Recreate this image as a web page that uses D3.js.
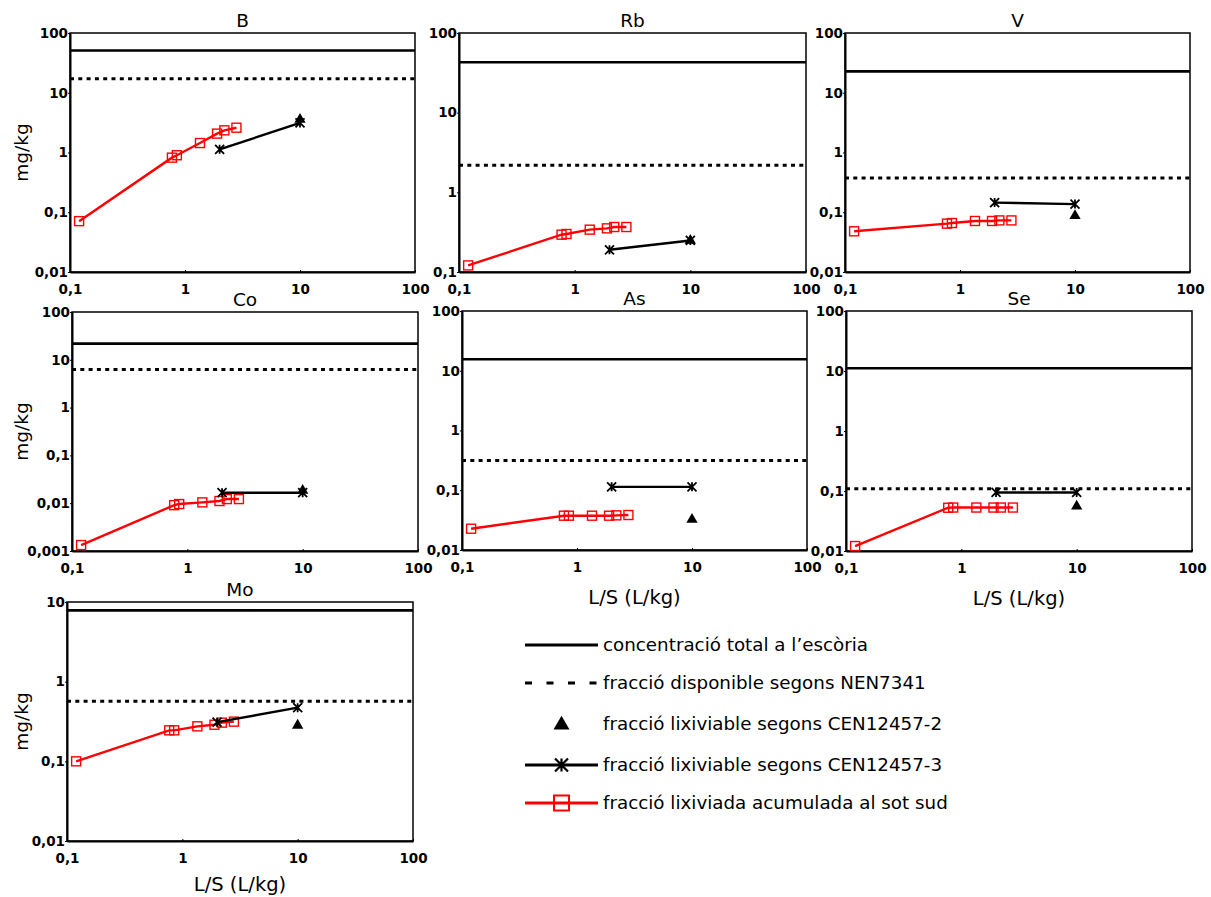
<!DOCTYPE html>
<html lang="ca">
<head>
<meta charset="utf-8">
<title>Lixiviació</title>
<script src="https://d3js.org/d3.v7.min.js"></script>
<style>
  body { margin: 0; background: #fff; }
  svg { font-family: "DejaVu Sans", Verdana, sans-serif; }
  .axis path, .axis line { stroke: #000; }
  .title { font-size: 18.5px; text-anchor: middle; }
  .ylab { font-size: 18.5px; text-anchor: middle; }
  .xlab { font-size: 19.5px; text-anchor: middle; }
  .leg { font-size: 18.3px; }
</style>
</head>
<body>
<div id="chart"></div>
<script>
// ---- data ----
var elements = ["B", "Rb", "V", "Co", "As", "Se", "Mo"];
var lsAccum = [0.12, 0.77, 0.85, 1.35, 1.9, 2.2, 2.8];   // L/S of the accumulated field leachate
var lsBatch = [2, 10];                                   // CEN12457-3
var lsSingle = 10;                                       // CEN12457-2
var totalConc = [51, 43, 22.8, 21.8, 15.6, 11.1, 7.86];
var availNEN = [17.2, 2.18, 0.374, 6.3, 0.315, 0.109, 0.566];
var cen2 = [3.7, 0.255, 0.091, 0.0194, 0.0338, 0.058, 0.291];
var cen3 = [
  [1.13, 3.12], [0.19, 0.249], [0.145, 0.137], [0.0166, 0.0166],
  [0.114, 0.114], [0.0946, 0.0946], [0.31, 0.472]
];
var accum = [
  [0.071, 0.82, 0.90, 1.44, 2.07, 2.35, 2.6],
  [0.121, 0.294, 0.30, 0.34, 0.353, 0.367, 0.367],
  [0.048, 0.0644, 0.066, 0.0714, 0.0714, 0.073, 0.073],
  [0.00133, 0.0091, 0.0096, 0.0104, 0.0111, 0.0122, 0.0122],
  [0.0227, 0.0375, 0.0375, 0.0375, 0.0375, 0.038, 0.0385],
  [0.0121, 0.0526, 0.053, 0.053, 0.053, 0.053, 0.053],
  [0.1, 0.245, 0.245, 0.275, 0.288, 0.306, 0.315]
];
var yDomains = [[0.01, 100], [0.1, 100], [0.01, 100], [0.001, 100], [0.01, 100], [0.01, 100], [0.01, 10]];
var xTicks = [0.1, 1, 10, 100];
var legendLabels = [
  "concentració total a l’escòria",
  "fracció disponible segons NEN7341",
  "fracció lixiviable segons CEN12457-2",
  "fracció lixiviable segons CEN12457-3",
  "fracció lixiviada acumulada al sot sud"
];

// ---- layout ----
var W = 1211, H = 897;
// plot boxes [left, top, right, bottom]
var boxes = [
  [70, 33, 415, 272], [459, 33, 806, 272], [845, 33, 1190, 272],
  [72, 312, 418, 551], [462, 311, 807, 550], [846, 311, 1192, 551],
  [67, 602, 413, 841]
];
var showYLab = [true, false, false, true, false, false, true];
// distance from the plot bottom to the "L/S (L/kg)" label (0 = none)
var xLabGap = [0, 0, 0, 0, 47, 47, 43];

var svg = d3.select("#chart").append("svg")
  .attr("width", W).attr("height", H);

var fmt = function (d) { return String(d).replace(".", ","); };

// star marker (Excel style: x with a vertical bar)
function starPath(s) {
  var h = s / 2;
  return "M" + (-h) + "," + (-h) + "L" + h + "," + h +
    "M" + (-h) + "," + h + "L" + h + "," + (-h) +
    "M0," + (-h) + "L0," + h;
}
var tri = d3.symbol().type(d3.symbolTriangle);

function styleAxis(a) {
  a.attr("font-family", null).attr("font-size", null);
  a.select(".domain").attr("stroke-width", 2);
  a.selectAll("text")
    .style("font-family", "'DejaVu Sans', Verdana, sans-serif")
    .style("font-size", "13.5px")
    .style("font-weight", "bold")
    .attr("fill", "#000");
}

elements.forEach(function (el, i) {
  var b = boxes[i];
  var x = d3.scaleLog().domain([0.1, 100]).range([b[0], b[2]]);
  var y = d3.scaleLog().domain(yDomains[i]).range([b[3], b[1]]);
  var yt = [];
  for (var v = yDomains[i][0]; v <= yDomains[i][1] * 1.001; v *= 10) yt.push(+v.toPrecision(1));

  var g = svg.append("g");

  // frame
  g.append("rect")
    .attr("x", b[0]).attr("y", b[1])
    .attr("width", b[2] - b[0]).attr("height", b[3] - b[1])
    .attr("fill", "none").attr("stroke", "#000").attr("stroke-width", 1.5);

  // axes
  g.append("g").attr("class", "axis")
    .attr("transform", "translate(" + b[0] + ",0)")
    .call(d3.axisLeft(y).tickValues(yt).tickFormat(fmt).tickSizeInner(2).tickSizeOuter(0).tickPadding(0))
    .call(styleAxis);

  g.append("g").attr("class", "axis")
    .attr("transform", "translate(0," + b[3] + ")")
    .call(d3.axisBottom(x).tickValues(xTicks).tickFormat(fmt).tickSizeInner(-2).tickSizeOuter(0).tickPadding(12))
    .call(styleAxis);

  // title
  g.append("text").attr("class", "title")
    .attr("x", (b[0] + b[2]) / 2).attr("y", b[1] - 6).text(el);

  if (showYLab[i]) {
    g.append("text").attr("class", "ylab")
      .attr("transform", "translate(22," + (b[1] + b[3]) / 2 + ") rotate(-90)")
      .attr("dy", "0.35em").text("mg/kg");
  }
  if (xLabGap[i]) {
    g.append("text").attr("class", "xlab")
      .attr("x", (b[0] + b[2]) / 2).attr("y", b[3] + xLabGap[i])
      .attr("dy", "0.35em").text("L/S (L/kg)");
  }

  // total concentration (solid) and NEN7341 availability (dotted)
  g.append("line")
    .attr("x1", x(0.1)).attr("x2", x(100))
    .attr("y1", y(totalConc[i])).attr("y2", y(totalConc[i]))
    .attr("stroke", "#000").attr("stroke-width", 2.6);
  g.append("line")
    .attr("x1", x(0.1)).attr("x2", x(100))
    .attr("y1", y(availNEN[i])).attr("y2", y(availNEN[i]))
    .attr("stroke", "#000").attr("stroke-width", 3)
    .attr("stroke-dasharray", "4,4.3");

  // accumulated leachate (red)
  var acc = lsAccum.map(function (l, k) { return [l, accum[i][k]]; });
  var line = d3.line().x(function (d) { return x(d[0]); }).y(function (d) { return y(d[1]); });
  g.append("path").attr("d", line(acc))
    .attr("fill", "none").attr("stroke", "#f00").attr("stroke-width", 2.4);
  g.selectAll("rect.sq").data(acc).enter().append("rect")
    .attr("class", "sq")
    .attr("x", function (d) { return x(d[0]) - 4.5; })
    .attr("y", function (d) { return y(d[1]) - 4.5; })
    .attr("width", 9).attr("height", 9)
    .attr("fill", "none").attr("stroke", "#f00").attr("stroke-width", 1.4);

  // CEN12457-2 (triangle)
  g.append("path").attr("d", tri.size(55)())
    .attr("transform", "translate(" + x(lsSingle) + "," + (y(cen2[i]) + 1) + ")")
    .attr("fill", "#000");

  // CEN12457-3 (stars + line)
  var bat = lsBatch.map(function (l, k) { return [l, cen3[i][k]]; });
  g.append("path").attr("d", line(bat))
    .attr("fill", "none").attr("stroke", "#000").attr("stroke-width", 2.4);
  g.selectAll("path.st").data(bat).enter().append("path")
    .attr("class", "st")
    .attr("d", starPath(9))
    .attr("transform", function (d) { return "translate(" + x(d[0]) + "," + y(d[1]) + ")"; })
    .attr("stroke", "#000").attr("stroke-width", 1.8);
});

// ---- legend ----
var legX0 = 525, legX1 = 598, legTx = 603;
var legY = [645, 683, 724, 765, 803];
var leg = svg.append("g");

leg.append("line").attr("x1", legX0).attr("x2", legX1).attr("y1", legY[0]).attr("y2", legY[0])
  .attr("stroke", "#000").attr("stroke-width", 3);
leg.append("line").attr("x1", legX0).attr("x2", legX1).attr("y1", legY[1]).attr("y2", legY[1])
  .attr("stroke", "#000").attr("stroke-width", 3).attr("stroke-dasharray", "7,14.5");
leg.append("path").attr("d", tri.size(110)())
  .attr("transform", "translate(" + (legX0 + legX1) / 2 + "," + (legY[2] + 1) + ")")
  .attr("fill", "#000");
leg.append("line").attr("x1", legX0).attr("x2", legX1).attr("y1", legY[3]).attr("y2", legY[3])
  .attr("stroke", "#000").attr("stroke-width", 3);
leg.append("path").attr("d", starPath(13))
  .attr("transform", "translate(" + (legX0 + legX1) / 2 + "," + legY[3] + ")")
  .attr("stroke", "#000").attr("stroke-width", 2.2);
leg.append("line").attr("x1", legX0).attr("x2", legX1).attr("y1", legY[4]).attr("y2", legY[4])
  .attr("stroke", "#f00").attr("stroke-width", 3);
leg.append("rect")
  .attr("x", (legX0 + legX1) / 2 - 7.5).attr("y", legY[4] - 7.5)
  .attr("width", 15).attr("height", 15)
  .attr("fill", "none").attr("stroke", "#f00").attr("stroke-width", 2);

leg.selectAll("text").data(legendLabels).enter().append("text")
  .attr("class", "leg")
  .attr("x", legTx)
  .attr("y", function (d, k) { return legY[k]; })
  .attr("dy", "0.35em")
  .text(function (d) { return d; });
</script>
</body>
</html>
